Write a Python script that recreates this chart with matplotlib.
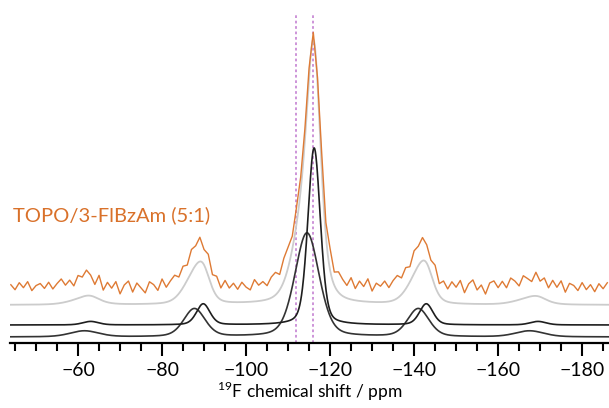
import numpy as np
import matplotlib
matplotlib.use("Agg")
from matplotlib import pyplot as plt
from matplotlib import ticker

plt.rcParams['font.family'] = ['Lato', 'DejaVu Sans']
plt.rcParams['mathtext.fontset'] = 'custom'
plt.rcParams['mathtext.rm'] = 'Lato'

# peak list (ppm, height, fwhm) - narrow site + spinning sidebands
narrow_pos = [-63.0, -89.8, -116.2, -142.9, -169.5]
narrow_h = [3.5, 21, 177, 21, 3.5]
narrow_w = [4.5, 3.8, 3.5, 3.8, 4.5]

# broad site + sidebands
broad_pos = [-61.5, -87.7, -114.5, -141.0, -167.5]
broad_h = [6, 28, 104, 28, 6]
broad_w = [8.0, 6.0, 6.8, 6.0, 8.0]

# baseline offsets of the stacked traces
off_bottom = 6
off_middle = 18
off_gray = 38
off_exp = 56

# experimental trace sampled every 1 ppm from -44 to -186, noise around the fit
exp_ppm = np.arange(-44, -187, -1)
exp_noise = [2, -3, 4, -1, 5, -4, 1, 3, -2, 4,
             -3, 2, 6, -1, 3, -4, 5, 2, 8, 3,
             -5, 6, -7, 2, -3, 4, -8, 1, 5, -6,
             3, -2, -7, 4, 1, -5, 6, -3, 2, 5,
             -1, 4, -2, 6, 3, 8, -1, 5, -4, 2,
             -6, 3, -4, 1, -5, 2, -3, -6, 4, -2,
             1, -4, 3, 5, -2, 6, 4, -3, 2, 0,
             0, 0, 0, -3, 4, -2, 5, -4, 3, -1,
             -5, 4, -6, 2, -3, 5, -7, 1, -2, 3,
             -4, 2, 5, -1, 4, -2, 6, 3, 7, 2,
             -3, 4, -6, 1, -5, 3, -2, 5, -7, 2,
             6, -4, 1, -8, 3, 5, -2, 4, -3, 6,
             2, -4, 5, 1, -3, 6, -2, 3, -5, 4,
             -2, 5, -6, 3, 1, -4, 4, -3, 2, -5,
             3, -2, 4]

ref_lines = [-112.0, -116.0]


def lineshape(x, pos, h, w, eta=0.3):
    out = np.zeros_like(x)
    for c, a, fw in zip(pos, h, w):
        d = (x - c) / fw
        out += a * (eta / (1 + 4 * d**2) + (1 - eta) * np.exp(-4 * np.log(2) * d**2))
    return out


x = np.linspace(-43.8, -186.4, 2000)
narrow = lineshape(x, narrow_pos, narrow_h, narrow_w)
broad = lineshape(x, broad_pos, broad_h, broad_w)
exp_fit = (lineshape(exp_ppm.astype(float), narrow_pos, narrow_h, narrow_w)
           + lineshape(exp_ppm.astype(float), broad_pos, broad_h, broad_w))

fig = plt.figure(figsize=(6.09, 4.08), dpi=100)
ax = fig.add_axes([10 / 609, 65 / 408, 599 / 609, 343 / 408])

ax.vlines(ref_lines, 0, 330, colors="#c98bd6", linestyles=(0, (1.5, 1.5)), lw=1.3, zorder=1)
ax.plot(x, broad + off_bottom, color="#333333", lw=1.2, zorder=3)
ax.plot(x, narrow + off_middle, color="#1e1e1e", lw=1.2, zorder=3)
ax.plot(x, narrow + broad + off_gray, color="#cccccc", lw=1.3, zorder=2)
ax.plot(exp_ppm, 0.96 * exp_fit + np.array(exp_noise) + off_exp, color="#de7a34", lw=1.0, zorder=4)

ax.text(-44.5, 128, "TOPO/3-FlBzAm (5:1)", color="#d9712a", fontsize=14.5, va="center", ha="left")

ax.set_xlim(-43.8, -186.4)
ax.set_ylim(0, 343)
ax.xaxis.set_major_locator(ticker.MultipleLocator(20))
ax.xaxis.set_minor_locator(ticker.MultipleLocator(5))
ax.tick_params(axis="x", which="major", length=9, width=1.5, labelsize=14, pad=5)
ax.tick_params(axis="x", which="minor", length=6, width=1.5)
ax.set_yticks([])
for s in ["top", "right", "left"]:
    ax.spines[s].set_visible(False)
ax.spines["bottom"].set_linewidth(1.6)
ax.set_xlabel("$^{19}$F chemical shift / ppm", fontsize=12.5, labelpad=0)

fig.savefig("out.png", dpi=100)
